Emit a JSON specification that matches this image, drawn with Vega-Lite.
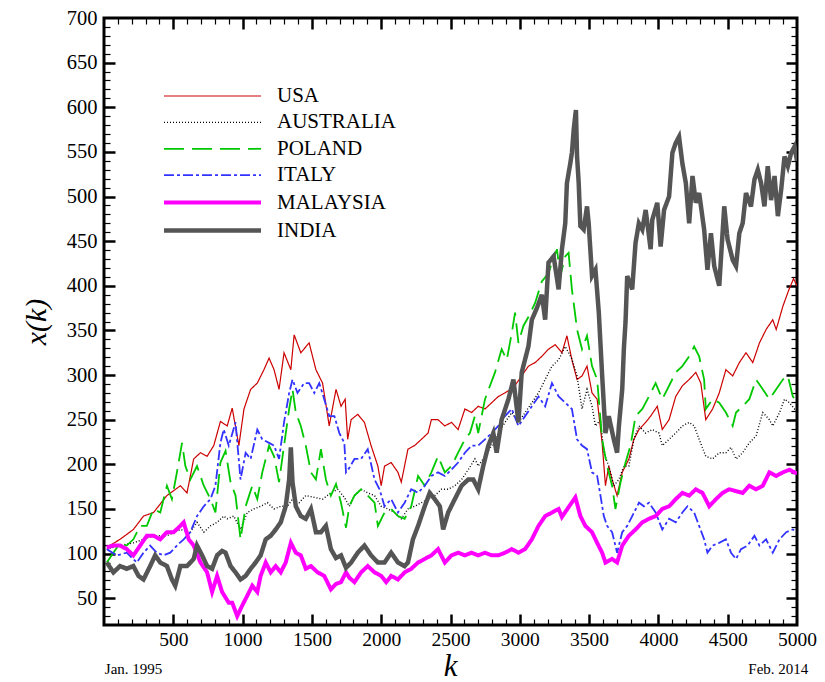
{
  "$schema": "https://vega.github.io/schema/vega-lite/v6.json",
  "autosize": {"type": "none"},
  "padding": {"left": 104, "top": 18, "right": 28, "bottom": 57},
  "width": 693,
  "height": 607,
  "background": "white",
  "config": {
    "view": {"stroke": "black", "strokeWidth": 3},
    "font": "Liberation Serif",
    "axis": {"grid": false, "domain": false, "labelFont": "Liberation Serif", "titleFont": "Liberation Serif", "labelColor": "black", "titleColor": "black", "tickColor": "black", "titleFontWeight": "normal"},
    "legend": {"orient": "none", "legendX": 96, "legendY": 67, "title": null, "padding": 0, "labelFont": "Liberation Serif", "labelFontSize": 21, "labelColor": "black", "symbolType": "M-4.85,0H4.85", "symbolSize": 400, "labelOffset": 52, "rowPadding": 5.4}
  },
  "data": {"values": [
    {"c":"USA","k":20,"v":107},{"c":"USA","k":116,"v":116},{"c":"USA","k":212,"v":127},{"c":"USA","k":285,"v":142},{"c":"USA","k":357,"v":146},{"c":"USA","k":454,"v":165},{"c":"USA","k":551,"v":176},{"c":"USA","k":599,"v":168},{"c":"USA","k":647,"v":206},{"c":"USA","k":696,"v":213},{"c":"USA","k":744,"v":209},{"c":"USA","k":792,"v":221},{"c":"USA","k":840,"v":248},{"c":"USA","k":889,"v":243},{"c":"USA","k":925,"v":263},{"c":"USA","k":973,"v":221},{"c":"USA","k":1010,"v":262},{"c":"USA","k":1058,"v":284},{"c":"USA","k":1106,"v":291},{"c":"USA","k":1154,"v":306},{"c":"USA","k":1191,"v":319},{"c":"USA","k":1227,"v":306},{"c":"USA","k":1263,"v":284},{"c":"USA","k":1299,"v":325},{"c":"USA","k":1348,"v":306},{"c":"USA","k":1372,"v":345},{"c":"USA","k":1420,"v":325},{"c":"USA","k":1480,"v":336},{"c":"USA","k":1529,"v":306},{"c":"USA","k":1577,"v":291},{"c":"USA","k":1625,"v":243},{"c":"USA","k":1674,"v":284},{"c":"USA","k":1710,"v":265},{"c":"USA","k":1740,"v":273},{"c":"USA","k":1758,"v":228},{"c":"USA","k":1783,"v":250},{"c":"USA","k":1831,"v":256},{"c":"USA","k":1879,"v":247},{"c":"USA","k":1927,"v":221},{"c":"USA","k":1976,"v":198},{"c":"USA","k":2000,"v":176},{"c":"USA","k":2024,"v":198},{"c":"USA","k":2072,"v":202},{"c":"USA","k":2121,"v":191},{"c":"USA","k":2145,"v":180},{"c":"USA","k":2193,"v":217},{"c":"USA","k":2241,"v":221},{"c":"USA","k":2290,"v":228},{"c":"USA","k":2338,"v":235},{"c":"USA","k":2362,"v":250},{"c":"USA","k":2410,"v":250},{"c":"USA","k":2459,"v":243},{"c":"USA","k":2507,"v":247},{"c":"USA","k":2555,"v":239},{"c":"USA","k":2604,"v":262},{"c":"USA","k":2652,"v":258},{"c":"USA","k":2700,"v":265},{"c":"USA","k":2749,"v":262},{"c":"USA","k":2797,"v":269},{"c":"USA","k":2845,"v":276},{"c":"USA","k":2893,"v":280},{"c":"USA","k":2954,"v":286},{"c":"USA","k":3014,"v":299},{"c":"USA","k":3062,"v":310},{"c":"USA","k":3111,"v":314},{"c":"USA","k":3159,"v":321},{"c":"USA","k":3207,"v":329},{"c":"USA","k":3256,"v":334},{"c":"USA","k":3304,"v":325},{"c":"USA","k":3340,"v":344},{"c":"USA","k":3376,"v":317},{"c":"USA","k":3413,"v":295},{"c":"USA","k":3449,"v":299},{"c":"USA","k":3485,"v":310},{"c":"USA","k":3521,"v":280},{"c":"USA","k":3558,"v":273},{"c":"USA","k":3594,"v":224},{"c":"USA","k":3618,"v":176},{"c":"USA","k":3642,"v":198},{"c":"USA","k":3666,"v":183},{"c":"USA","k":3702,"v":165},{"c":"USA","k":3739,"v":191},{"c":"USA","k":3787,"v":206},{"c":"USA","k":3823,"v":228},{"c":"USA","k":3860,"v":239},{"c":"USA","k":3908,"v":247},{"c":"USA","k":3944,"v":254},{"c":"USA","k":3992,"v":265},{"c":"USA","k":4028,"v":239},{"c":"USA","k":4077,"v":250},{"c":"USA","k":4125,"v":276},{"c":"USA","k":4173,"v":288},{"c":"USA","k":4222,"v":295},{"c":"USA","k":4270,"v":303},{"c":"USA","k":4306,"v":291},{"c":"USA","k":4342,"v":250},{"c":"USA","k":4391,"v":262},{"c":"USA","k":4439,"v":280},{"c":"USA","k":4487,"v":306},{"c":"USA","k":4536,"v":299},{"c":"USA","k":4584,"v":314},{"c":"USA","k":4632,"v":325},{"c":"USA","k":4681,"v":314},{"c":"USA","k":4729,"v":336},{"c":"USA","k":4777,"v":351},{"c":"USA","k":4825,"v":362},{"c":"USA","k":4850,"v":351},{"c":"USA","k":4898,"v":377},{"c":"USA","k":4940,"v":395},{"c":"USA","k":4975,"v":408},{"c":"USA","k":5000,"v":400},

    {"c":"AUSTRALIA","k":20,"v":105},{"c":"AUSTRALIA","k":116,"v":109},{"c":"AUSTRALIA","k":212,"v":112},{"c":"AUSTRALIA","k":285,"v":116},{"c":"AUSTRALIA","k":357,"v":120},{"c":"AUSTRALIA","k":454,"v":120},{"c":"AUSTRALIA","k":551,"v":127},{"c":"AUSTRALIA","k":623,"v":124},{"c":"AUSTRALIA","k":671,"v":135},{"c":"AUSTRALIA","k":720,"v":124},{"c":"AUSTRALIA","k":768,"v":131},{"c":"AUSTRALIA","k":816,"v":135},{"c":"AUSTRALIA","k":864,"v":142},{"c":"AUSTRALIA","k":889,"v":139},{"c":"AUSTRALIA","k":937,"v":142},{"c":"AUSTRALIA","k":985,"v":127},{"c":"AUSTRALIA","k":1034,"v":146},{"c":"AUSTRALIA","k":1082,"v":150},{"c":"AUSTRALIA","k":1130,"v":153},{"c":"AUSTRALIA","k":1179,"v":157},{"c":"AUSTRALIA","k":1227,"v":150},{"c":"AUSTRALIA","k":1275,"v":153},{"c":"AUSTRALIA","k":1323,"v":153},{"c":"AUSTRALIA","k":1360,"v":161},{"c":"AUSTRALIA","k":1408,"v":157},{"c":"AUSTRALIA","k":1456,"v":165},{"c":"AUSTRALIA","k":1517,"v":163},{"c":"AUSTRALIA","k":1577,"v":161},{"c":"AUSTRALIA","k":1637,"v":168},{"c":"AUSTRALIA","k":1686,"v":172},{"c":"AUSTRALIA","k":1734,"v":163},{"c":"AUSTRALIA","k":1770,"v":153},{"c":"AUSTRALIA","k":1807,"v":165},{"c":"AUSTRALIA","k":1855,"v":172},{"c":"AUSTRALIA","k":1903,"v":168},{"c":"AUSTRALIA","k":1952,"v":165},{"c":"AUSTRALIA","k":2000,"v":153},{"c":"AUSTRALIA","k":2048,"v":150},{"c":"AUSTRALIA","k":2096,"v":146},{"c":"AUSTRALIA","k":2145,"v":139},{"c":"AUSTRALIA","k":2193,"v":150},{"c":"AUSTRALIA","k":2241,"v":153},{"c":"AUSTRALIA","k":2290,"v":157},{"c":"AUSTRALIA","k":2338,"v":161},{"c":"AUSTRALIA","k":2386,"v":165},{"c":"AUSTRALIA","k":2435,"v":172},{"c":"AUSTRALIA","k":2483,"v":172},{"c":"AUSTRALIA","k":2531,"v":176},{"c":"AUSTRALIA","k":2580,"v":183},{"c":"AUSTRALIA","k":2628,"v":194},{"c":"AUSTRALIA","k":2676,"v":206},{"c":"AUSTRALIA","k":2700,"v":198},{"c":"AUSTRALIA","k":2749,"v":209},{"c":"AUSTRALIA","k":2797,"v":221},{"c":"AUSTRALIA","k":2845,"v":235},{"c":"AUSTRALIA","k":2893,"v":247},{"c":"AUSTRALIA","k":2942,"v":258},{"c":"AUSTRALIA","k":2990,"v":247},{"c":"AUSTRALIA","k":3038,"v":258},{"c":"AUSTRALIA","k":3087,"v":269},{"c":"AUSTRALIA","k":3135,"v":280},{"c":"AUSTRALIA","k":3183,"v":295},{"c":"AUSTRALIA","k":3232,"v":310},{"c":"AUSTRALIA","k":3280,"v":317},{"c":"AUSTRALIA","k":3328,"v":332},{"c":"AUSTRALIA","k":3376,"v":318},{"c":"AUSTRALIA","k":3413,"v":299},{"c":"AUSTRALIA","k":3449,"v":262},{"c":"AUSTRALIA","k":3485,"v":284},{"c":"AUSTRALIA","k":3521,"v":265},{"c":"AUSTRALIA","k":3546,"v":243},{"c":"AUSTRALIA","k":3582,"v":250},{"c":"AUSTRALIA","k":3606,"v":213},{"c":"AUSTRALIA","k":3642,"v":198},{"c":"AUSTRALIA","k":3678,"v":176},{"c":"AUSTRALIA","k":3715,"v":183},{"c":"AUSTRALIA","k":3751,"v":198},{"c":"AUSTRALIA","k":3787,"v":198},{"c":"AUSTRALIA","k":3823,"v":228},{"c":"AUSTRALIA","k":3860,"v":243},{"c":"AUSTRALIA","k":3908,"v":235},{"c":"AUSTRALIA","k":3956,"v":239},{"c":"AUSTRALIA","k":4004,"v":235},{"c":"AUSTRALIA","k":4028,"v":221},{"c":"AUSTRALIA","k":4077,"v":228},{"c":"AUSTRALIA","k":4125,"v":235},{"c":"AUSTRALIA","k":4173,"v":243},{"c":"AUSTRALIA","k":4222,"v":247},{"c":"AUSTRALIA","k":4258,"v":243},{"c":"AUSTRALIA","k":4294,"v":228},{"c":"AUSTRALIA","k":4342,"v":209},{"c":"AUSTRALIA","k":4391,"v":206},{"c":"AUSTRALIA","k":4439,"v":213},{"c":"AUSTRALIA","k":4487,"v":213},{"c":"AUSTRALIA","k":4524,"v":219},{"c":"AUSTRALIA","k":4560,"v":206},{"c":"AUSTRALIA","k":4608,"v":213},{"c":"AUSTRALIA","k":4656,"v":224},{"c":"AUSTRALIA","k":4705,"v":232},{"c":"AUSTRALIA","k":4753,"v":258},{"c":"AUSTRALIA","k":4801,"v":250},{"c":"AUSTRALIA","k":4825,"v":243},{"c":"AUSTRALIA","k":4874,"v":258},{"c":"AUSTRALIA","k":4910,"v":273},{"c":"AUSTRALIA","k":4946,"v":269},{"c":"AUSTRALIA","k":4982,"v":262},{"c":"AUSTRALIA","k":5000,"v":265},

    {"c":"POLAND","k":20,"v":90},{"c":"POLAND","k":68,"v":101},{"c":"POLAND","k":116,"v":112},{"c":"POLAND","k":164,"v":109},{"c":"POLAND","k":212,"v":116},{"c":"POLAND","k":261,"v":131},{"c":"POLAND","k":309,"v":131},{"c":"POLAND","k":357,"v":150},{"c":"POLAND","k":406,"v":146},{"c":"POLAND","k":454,"v":176},{"c":"POLAND","k":490,"v":161},{"c":"POLAND","k":526,"v":191},{"c":"POLAND","k":563,"v":224},{"c":"POLAND","k":587,"v":198},{"c":"POLAND","k":623,"v":183},{"c":"POLAND","k":671,"v":198},{"c":"POLAND","k":720,"v":176},{"c":"POLAND","k":768,"v":161},{"c":"POLAND","k":804,"v":146},{"c":"POLAND","k":840,"v":202},{"c":"POLAND","k":877,"v":215},{"c":"POLAND","k":913,"v":180},{"c":"POLAND","k":949,"v":165},{"c":"POLAND","k":985,"v":116},{"c":"POLAND","k":1022,"v":153},{"c":"POLAND","k":1070,"v":176},{"c":"POLAND","k":1106,"v":161},{"c":"POLAND","k":1142,"v":191},{"c":"POLAND","k":1191,"v":221},{"c":"POLAND","k":1227,"v":209},{"c":"POLAND","k":1263,"v":180},{"c":"POLAND","k":1299,"v":221},{"c":"POLAND","k":1336,"v":262},{"c":"POLAND","k":1360,"v":284},{"c":"POLAND","k":1384,"v":258},{"c":"POLAND","k":1420,"v":243},{"c":"POLAND","k":1456,"v":221},{"c":"POLAND","k":1493,"v":191},{"c":"POLAND","k":1529,"v":183},{"c":"POLAND","k":1565,"v":217},{"c":"POLAND","k":1601,"v":183},{"c":"POLAND","k":1637,"v":165},{"c":"POLAND","k":1674,"v":178},{"c":"POLAND","k":1710,"v":157},{"c":"POLAND","k":1746,"v":129},{"c":"POLAND","k":1770,"v":153},{"c":"POLAND","k":1807,"v":165},{"c":"POLAND","k":1855,"v":172},{"c":"POLAND","k":1903,"v":165},{"c":"POLAND","k":1952,"v":157},{"c":"POLAND","k":1976,"v":131},{"c":"POLAND","k":2024,"v":146},{"c":"POLAND","k":2072,"v":150},{"c":"POLAND","k":2121,"v":142},{"c":"POLAND","k":2169,"v":139},{"c":"POLAND","k":2217,"v":153},{"c":"POLAND","k":2266,"v":187},{"c":"POLAND","k":2314,"v":176},{"c":"POLAND","k":2362,"v":191},{"c":"POLAND","k":2410,"v":209},{"c":"POLAND","k":2459,"v":191},{"c":"POLAND","k":2507,"v":198},{"c":"POLAND","k":2555,"v":213},{"c":"POLAND","k":2604,"v":228},{"c":"POLAND","k":2640,"v":235},{"c":"POLAND","k":2676,"v":254},{"c":"POLAND","k":2700,"v":235},{"c":"POLAND","k":2749,"v":273},{"c":"POLAND","k":2785,"v":288},{"c":"POLAND","k":2821,"v":303},{"c":"POLAND","k":2869,"v":329},{"c":"POLAND","k":2906,"v":317},{"c":"POLAND","k":2942,"v":347},{"c":"POLAND","k":2966,"v":370},{"c":"POLAND","k":2990,"v":336},{"c":"POLAND","k":3026,"v":355},{"c":"POLAND","k":3062,"v":365},{"c":"POLAND","k":3111,"v":381},{"c":"POLAND","k":3159,"v":405},{"c":"POLAND","k":3207,"v":414},{"c":"POLAND","k":3232,"v":426},{"c":"POLAND","k":3268,"v":441},{"c":"POLAND","k":3292,"v":411},{"c":"POLAND","k":3328,"v":433},{"c":"POLAND","k":3352,"v":437},{"c":"POLAND","k":3376,"v":396},{"c":"POLAND","k":3401,"v":366},{"c":"POLAND","k":3413,"v":351},{"c":"POLAND","k":3449,"v":329},{"c":"POLAND","k":3485,"v":344},{"c":"POLAND","k":3521,"v":310},{"c":"POLAND","k":3558,"v":295},{"c":"POLAND","k":3594,"v":228},{"c":"POLAND","k":3630,"v":198},{"c":"POLAND","k":3666,"v":176},{"c":"POLAND","k":3690,"v":150},{"c":"POLAND","k":3727,"v":180},{"c":"POLAND","k":3763,"v":202},{"c":"POLAND","k":3799,"v":221},{"c":"POLAND","k":3835,"v":254},{"c":"POLAND","k":3884,"v":262},{"c":"POLAND","k":3932,"v":276},{"c":"POLAND","k":3980,"v":291},{"c":"POLAND","k":4028,"v":273},{"c":"POLAND","k":4077,"v":288},{"c":"POLAND","k":4125,"v":303},{"c":"POLAND","k":4173,"v":310},{"c":"POLAND","k":4222,"v":321},{"c":"POLAND","k":4258,"v":332},{"c":"POLAND","k":4294,"v":321},{"c":"POLAND","k":4330,"v":295},{"c":"POLAND","k":4342,"v":262},{"c":"POLAND","k":4391,"v":273},{"c":"POLAND","k":4439,"v":269},{"c":"POLAND","k":4487,"v":258},{"c":"POLAND","k":4536,"v":243},{"c":"POLAND","k":4560,"v":258},{"c":"POLAND","k":4608,"v":265},{"c":"POLAND","k":4656,"v":273},{"c":"POLAND","k":4705,"v":295},{"c":"POLAND","k":4753,"v":284},{"c":"POLAND","k":4801,"v":273},{"c":"POLAND","k":4850,"v":284},{"c":"POLAND","k":4898,"v":295},{"c":"POLAND","k":4934,"v":299},{"c":"POLAND","k":4970,"v":276},{"c":"POLAND","k":5000,"v":270},

    {"c":"ITALY","k":20,"v":105},{"c":"ITALY","k":92,"v":98},{"c":"ITALY","k":164,"v":101},{"c":"ITALY","k":237,"v":90},{"c":"ITALY","k":285,"v":101},{"c":"ITALY","k":333,"v":109},{"c":"ITALY","k":381,"v":101},{"c":"ITALY","k":430,"v":98},{"c":"ITALY","k":478,"v":101},{"c":"ITALY","k":526,"v":109},{"c":"ITALY","k":575,"v":116},{"c":"ITALY","k":623,"v":124},{"c":"ITALY","k":671,"v":142},{"c":"ITALY","k":720,"v":153},{"c":"ITALY","k":768,"v":161},{"c":"ITALY","k":804,"v":176},{"c":"ITALY","k":840,"v":224},{"c":"ITALY","k":864,"v":239},{"c":"ITALY","k":900,"v":221},{"c":"ITALY","k":949,"v":247},{"c":"ITALY","k":985,"v":183},{"c":"ITALY","k":1022,"v":213},{"c":"ITALY","k":1058,"v":206},{"c":"ITALY","k":1106,"v":239},{"c":"ITALY","k":1142,"v":228},{"c":"ITALY","k":1191,"v":224},{"c":"ITALY","k":1227,"v":221},{"c":"ITALY","k":1263,"v":206},{"c":"ITALY","k":1299,"v":247},{"c":"ITALY","k":1336,"v":280},{"c":"ITALY","k":1360,"v":295},{"c":"ITALY","k":1396,"v":280},{"c":"ITALY","k":1444,"v":291},{"c":"ITALY","k":1480,"v":291},{"c":"ITALY","k":1517,"v":280},{"c":"ITALY","k":1553,"v":291},{"c":"ITALY","k":1589,"v":273},{"c":"ITALY","k":1625,"v":254},{"c":"ITALY","k":1662,"v":254},{"c":"ITALY","k":1698,"v":235},{"c":"ITALY","k":1734,"v":224},{"c":"ITALY","k":1746,"v":191},{"c":"ITALY","k":1770,"v":196},{"c":"ITALY","k":1807,"v":206},{"c":"ITALY","k":1855,"v":206},{"c":"ITALY","k":1903,"v":217},{"c":"ITALY","k":1952,"v":183},{"c":"ITALY","k":1988,"v":172},{"c":"ITALY","k":2024,"v":153},{"c":"ITALY","k":2072,"v":161},{"c":"ITALY","k":2121,"v":146},{"c":"ITALY","k":2169,"v":157},{"c":"ITALY","k":2217,"v":172},{"c":"ITALY","k":2266,"v":168},{"c":"ITALY","k":2314,"v":176},{"c":"ITALY","k":2362,"v":187},{"c":"ITALY","k":2410,"v":191},{"c":"ITALY","k":2459,"v":187},{"c":"ITALY","k":2507,"v":194},{"c":"ITALY","k":2555,"v":202},{"c":"ITALY","k":2604,"v":213},{"c":"ITALY","k":2652,"v":221},{"c":"ITALY","k":2700,"v":221},{"c":"ITALY","k":2749,"v":228},{"c":"ITALY","k":2797,"v":235},{"c":"ITALY","k":2845,"v":243},{"c":"ITALY","k":2893,"v":254},{"c":"ITALY","k":2942,"v":262},{"c":"ITALY","k":2990,"v":243},{"c":"ITALY","k":3038,"v":254},{"c":"ITALY","k":3087,"v":265},{"c":"ITALY","k":3135,"v":276},{"c":"ITALY","k":3183,"v":265},{"c":"ITALY","k":3232,"v":291},{"c":"ITALY","k":3280,"v":276},{"c":"ITALY","k":3328,"v":269},{"c":"ITALY","k":3376,"v":262},{"c":"ITALY","k":3413,"v":228},{"c":"ITALY","k":3449,"v":221},{"c":"ITALY","k":3485,"v":217},{"c":"ITALY","k":3521,"v":191},{"c":"ITALY","k":3558,"v":187},{"c":"ITALY","k":3582,"v":165},{"c":"ITALY","k":3606,"v":142},{"c":"ITALY","k":3630,"v":131},{"c":"ITALY","k":3666,"v":124},{"c":"ITALY","k":3702,"v":101},{"c":"ITALY","k":3739,"v":124},{"c":"ITALY","k":3775,"v":131},{"c":"ITALY","k":3811,"v":142},{"c":"ITALY","k":3860,"v":157},{"c":"ITALY","k":3896,"v":153},{"c":"ITALY","k":3932,"v":157},{"c":"ITALY","k":3980,"v":146},{"c":"ITALY","k":4028,"v":127},{"c":"ITALY","k":4077,"v":139},{"c":"ITALY","k":4125,"v":135},{"c":"ITALY","k":4173,"v":146},{"c":"ITALY","k":4210,"v":153},{"c":"ITALY","k":4258,"v":146},{"c":"ITALY","k":4294,"v":131},{"c":"ITALY","k":4330,"v":116},{"c":"ITALY","k":4354,"v":101},{"c":"ITALY","k":4391,"v":109},{"c":"ITALY","k":4439,"v":112},{"c":"ITALY","k":4487,"v":116},{"c":"ITALY","k":4524,"v":101},{"c":"ITALY","k":4560,"v":94},{"c":"ITALY","k":4596,"v":105},{"c":"ITALY","k":4644,"v":109},{"c":"ITALY","k":4693,"v":120},{"c":"ITALY","k":4729,"v":109},{"c":"ITALY","k":4777,"v":116},{"c":"ITALY","k":4825,"v":101},{"c":"ITALY","k":4874,"v":116},{"c":"ITALY","k":4922,"v":124},{"c":"ITALY","k":4970,"v":127},{"c":"ITALY","k":5000,"v":125},

    {"c":"MALAYSIA","k":20,"v":107},{"c":"MALAYSIA","k":68,"v":109},{"c":"MALAYSIA","k":116,"v":109},{"c":"MALAYSIA","k":164,"v":105},{"c":"MALAYSIA","k":212,"v":98},{"c":"MALAYSIA","k":261,"v":109},{"c":"MALAYSIA","k":309,"v":120},{"c":"MALAYSIA","k":357,"v":120},{"c":"MALAYSIA","k":406,"v":116},{"c":"MALAYSIA","k":454,"v":124},{"c":"MALAYSIA","k":502,"v":124},{"c":"MALAYSIA","k":551,"v":131},{"c":"MALAYSIA","k":575,"v":135},{"c":"MALAYSIA","k":611,"v":116},{"c":"MALAYSIA","k":647,"v":109},{"c":"MALAYSIA","k":696,"v":90},{"c":"MALAYSIA","k":744,"v":79},{"c":"MALAYSIA","k":780,"v":57},{"c":"MALAYSIA","k":816,"v":75},{"c":"MALAYSIA","k":852,"v":57},{"c":"MALAYSIA","k":900,"v":45},{"c":"MALAYSIA","k":925,"v":45},{"c":"MALAYSIA","k":961,"v":30},{"c":"MALAYSIA","k":998,"v":42},{"c":"MALAYSIA","k":1034,"v":53},{"c":"MALAYSIA","k":1070,"v":64},{"c":"MALAYSIA","k":1106,"v":57},{"c":"MALAYSIA","k":1130,"v":75},{"c":"MALAYSIA","k":1167,"v":90},{"c":"MALAYSIA","k":1203,"v":79},{"c":"MALAYSIA","k":1239,"v":86},{"c":"MALAYSIA","k":1275,"v":79},{"c":"MALAYSIA","k":1311,"v":90},{"c":"MALAYSIA","k":1348,"v":112},{"c":"MALAYSIA","k":1384,"v":101},{"c":"MALAYSIA","k":1420,"v":98},{"c":"MALAYSIA","k":1456,"v":83},{"c":"MALAYSIA","k":1493,"v":86},{"c":"MALAYSIA","k":1541,"v":79},{"c":"MALAYSIA","k":1589,"v":75},{"c":"MALAYSIA","k":1637,"v":60},{"c":"MALAYSIA","k":1674,"v":66},{"c":"MALAYSIA","k":1710,"v":68},{"c":"MALAYSIA","k":1746,"v":79},{"c":"MALAYSIA","k":1770,"v":73},{"c":"MALAYSIA","k":1807,"v":68},{"c":"MALAYSIA","k":1855,"v":79},{"c":"MALAYSIA","k":1903,"v":86},{"c":"MALAYSIA","k":1952,"v":79},{"c":"MALAYSIA","k":2000,"v":75},{"c":"MALAYSIA","k":2036,"v":68},{"c":"MALAYSIA","k":2072,"v":75},{"c":"MALAYSIA","k":2121,"v":71},{"c":"MALAYSIA","k":2169,"v":79},{"c":"MALAYSIA","k":2217,"v":83},{"c":"MALAYSIA","k":2266,"v":90},{"c":"MALAYSIA","k":2314,"v":94},{"c":"MALAYSIA","k":2362,"v":98},{"c":"MALAYSIA","k":2410,"v":105},{"c":"MALAYSIA","k":2459,"v":90},{"c":"MALAYSIA","k":2507,"v":98},{"c":"MALAYSIA","k":2555,"v":101},{"c":"MALAYSIA","k":2604,"v":98},{"c":"MALAYSIA","k":2652,"v":101},{"c":"MALAYSIA","k":2700,"v":98},{"c":"MALAYSIA","k":2749,"v":101},{"c":"MALAYSIA","k":2797,"v":98},{"c":"MALAYSIA","k":2845,"v":98},{"c":"MALAYSIA","k":2893,"v":101},{"c":"MALAYSIA","k":2942,"v":105},{"c":"MALAYSIA","k":2990,"v":101},{"c":"MALAYSIA","k":3038,"v":105},{"c":"MALAYSIA","k":3087,"v":116},{"c":"MALAYSIA","k":3135,"v":131},{"c":"MALAYSIA","k":3183,"v":142},{"c":"MALAYSIA","k":3232,"v":146},{"c":"MALAYSIA","k":3280,"v":150},{"c":"MALAYSIA","k":3304,"v":141},{"c":"MALAYSIA","k":3352,"v":152},{"c":"MALAYSIA","k":3401,"v":163},{"c":"MALAYSIA","k":3437,"v":142},{"c":"MALAYSIA","k":3473,"v":131},{"c":"MALAYSIA","k":3521,"v":124},{"c":"MALAYSIA","k":3558,"v":112},{"c":"MALAYSIA","k":3594,"v":101},{"c":"MALAYSIA","k":3618,"v":90},{"c":"MALAYSIA","k":3666,"v":94},{"c":"MALAYSIA","k":3702,"v":90},{"c":"MALAYSIA","k":3739,"v":109},{"c":"MALAYSIA","k":3787,"v":120},{"c":"MALAYSIA","k":3835,"v":127},{"c":"MALAYSIA","k":3884,"v":135},{"c":"MALAYSIA","k":3932,"v":139},{"c":"MALAYSIA","k":3980,"v":142},{"c":"MALAYSIA","k":4028,"v":150},{"c":"MALAYSIA","k":4077,"v":153},{"c":"MALAYSIA","k":4125,"v":161},{"c":"MALAYSIA","k":4173,"v":168},{"c":"MALAYSIA","k":4222,"v":165},{"c":"MALAYSIA","k":4270,"v":172},{"c":"MALAYSIA","k":4318,"v":168},{"c":"MALAYSIA","k":4367,"v":153},{"c":"MALAYSIA","k":4415,"v":161},{"c":"MALAYSIA","k":4463,"v":168},{"c":"MALAYSIA","k":4511,"v":172},{"c":"MALAYSIA","k":4560,"v":170},{"c":"MALAYSIA","k":4608,"v":168},{"c":"MALAYSIA","k":4656,"v":176},{"c":"MALAYSIA","k":4705,"v":172},{"c":"MALAYSIA","k":4753,"v":176},{"c":"MALAYSIA","k":4801,"v":191},{"c":"MALAYSIA","k":4850,"v":187},{"c":"MALAYSIA","k":4898,"v":191},{"c":"MALAYSIA","k":4946,"v":194},{"c":"MALAYSIA","k":4982,"v":191},{"c":"MALAYSIA","k":5000,"v":190},

    {"c":"INDIA","k":20,"v":90},{"c":"INDIA","k":68,"v":79},{"c":"INDIA","k":116,"v":86},{"c":"INDIA","k":164,"v":83},{"c":"INDIA","k":212,"v":86},{"c":"INDIA","k":249,"v":75},{"c":"INDIA","k":285,"v":71},{"c":"INDIA","k":333,"v":86},{"c":"INDIA","k":369,"v":98},{"c":"INDIA","k":406,"v":90},{"c":"INDIA","k":454,"v":86},{"c":"INDIA","k":490,"v":71},{"c":"INDIA","k":514,"v":64},{"c":"INDIA","k":551,"v":86},{"c":"INDIA","k":599,"v":86},{"c":"INDIA","k":647,"v":94},{"c":"INDIA","k":671,"v":109},{"c":"INDIA","k":708,"v":98},{"c":"INDIA","k":744,"v":86},{"c":"INDIA","k":780,"v":83},{"c":"INDIA","k":816,"v":98},{"c":"INDIA","k":852,"v":103},{"c":"INDIA","k":877,"v":101},{"c":"INDIA","k":913,"v":86},{"c":"INDIA","k":949,"v":79},{"c":"INDIA","k":985,"v":71},{"c":"INDIA","k":1022,"v":75},{"c":"INDIA","k":1058,"v":83},{"c":"INDIA","k":1094,"v":90},{"c":"INDIA","k":1130,"v":98},{"c":"INDIA","k":1167,"v":116},{"c":"INDIA","k":1203,"v":120},{"c":"INDIA","k":1239,"v":127},{"c":"INDIA","k":1275,"v":135},{"c":"INDIA","k":1311,"v":153},{"c":"INDIA","k":1336,"v":183},{"c":"INDIA","k":1348,"v":219},{"c":"INDIA","k":1360,"v":180},{"c":"INDIA","k":1384,"v":153},{"c":"INDIA","k":1420,"v":142},{"c":"INDIA","k":1456,"v":139},{"c":"INDIA","k":1493,"v":150},{"c":"INDIA","k":1529,"v":124},{"c":"INDIA","k":1565,"v":124},{"c":"INDIA","k":1601,"v":131},{"c":"INDIA","k":1637,"v":105},{"c":"INDIA","k":1674,"v":95},{"c":"INDIA","k":1710,"v":98},{"c":"INDIA","k":1746,"v":84},{"c":"INDIA","k":1783,"v":90},{"c":"INDIA","k":1831,"v":101},{"c":"INDIA","k":1879,"v":109},{"c":"INDIA","k":1927,"v":98},{"c":"INDIA","k":1976,"v":90},{"c":"INDIA","k":2024,"v":90},{"c":"INDIA","k":2072,"v":101},{"c":"INDIA","k":2121,"v":90},{"c":"INDIA","k":2169,"v":86},{"c":"INDIA","k":2193,"v":90},{"c":"INDIA","k":2229,"v":116},{"c":"INDIA","k":2266,"v":131},{"c":"INDIA","k":2314,"v":153},{"c":"INDIA","k":2350,"v":168},{"c":"INDIA","k":2386,"v":161},{"c":"INDIA","k":2423,"v":153},{"c":"INDIA","k":2447,"v":127},{"c":"INDIA","k":2483,"v":146},{"c":"INDIA","k":2531,"v":161},{"c":"INDIA","k":2580,"v":176},{"c":"INDIA","k":2628,"v":183},{"c":"INDIA","k":2664,"v":183},{"c":"INDIA","k":2700,"v":172},{"c":"INDIA","k":2736,"v":198},{"c":"INDIA","k":2773,"v":221},{"c":"INDIA","k":2809,"v":235},{"c":"INDIA","k":2833,"v":213},{"c":"INDIA","k":2869,"v":250},{"c":"INDIA","k":2918,"v":273},{"c":"INDIA","k":2954,"v":295},{"c":"INDIA","k":2990,"v":247},{"c":"INDIA","k":3014,"v":303},{"c":"INDIA","k":3062,"v":332},{"c":"INDIA","k":3087,"v":362},{"c":"INDIA","k":3123,"v":375},{"c":"INDIA","k":3159,"v":390},{"c":"INDIA","k":3183,"v":362},{"c":"INDIA","k":3207,"v":426},{"c":"INDIA","k":3244,"v":433},{"c":"INDIA","k":3280,"v":396},{"c":"INDIA","k":3304,"v":441},{"c":"INDIA","k":3328,"v":470},{"c":"INDIA","k":3340,"v":515},{"c":"INDIA","k":3364,"v":537},{"c":"INDIA","k":3376,"v":549},{"c":"INDIA","k":3389,"v":575},{"c":"INDIA","k":3405,"v":597},{"c":"INDIA","k":3413,"v":545},{"c":"INDIA","k":3425,"v":515},{"c":"INDIA","k":3437,"v":467},{"c":"INDIA","k":3461,"v":463},{"c":"INDIA","k":3485,"v":489},{"c":"INDIA","k":3497,"v":470},{"c":"INDIA","k":3521,"v":411},{"c":"INDIA","k":3546,"v":418},{"c":"INDIA","k":3570,"v":370},{"c":"INDIA","k":3594,"v":300},{"c":"INDIA","k":3618,"v":235},{"c":"INDIA","k":3642,"v":254},{"c":"INDIA","k":3678,"v":228},{"c":"INDIA","k":3702,"v":213},{"c":"INDIA","k":3715,"v":243},{"c":"INDIA","k":3739,"v":284},{"c":"INDIA","k":3751,"v":330},{"c":"INDIA","k":3763,"v":360},{"c":"INDIA","k":3775,"v":411},{"c":"INDIA","k":3811,"v":396},{"c":"INDIA","k":3835,"v":448},{"c":"INDIA","k":3859,"v":470},{"c":"INDIA","k":3884,"v":463},{"c":"INDIA","k":3908,"v":485},{"c":"INDIA","k":3944,"v":441},{"c":"INDIA","k":3956,"v":474},{"c":"INDIA","k":3992,"v":493},{"c":"INDIA","k":4016,"v":444},{"c":"INDIA","k":4041,"v":485},{"c":"INDIA","k":4077,"v":500},{"c":"INDIA","k":4101,"v":549},{"c":"INDIA","k":4125,"v":560},{"c":"INDIA","k":4149,"v":567},{"c":"INDIA","k":4173,"v":537},{"c":"INDIA","k":4198,"v":515},{"c":"INDIA","k":4222,"v":470},{"c":"INDIA","k":4246,"v":523},{"c":"INDIA","k":4270,"v":493},{"c":"INDIA","k":4294,"v":504},{"c":"INDIA","k":4330,"v":463},{"c":"INDIA","k":4354,"v":418},{"c":"INDIA","k":4379,"v":459},{"c":"INDIA","k":4403,"v":422},{"c":"INDIA","k":4439,"v":400},{"c":"INDIA","k":4475,"v":489},{"c":"INDIA","k":4499,"v":452},{"c":"INDIA","k":4536,"v":429},{"c":"INDIA","k":4560,"v":422},{"c":"INDIA","k":4584,"v":459},{"c":"INDIA","k":4608,"v":470},{"c":"INDIA","k":4632,"v":504},{"c":"INDIA","k":4668,"v":489},{"c":"INDIA","k":4693,"v":519},{"c":"INDIA","k":4717,"v":530},{"c":"INDIA","k":4741,"v":515},{"c":"INDIA","k":4765,"v":489},{"c":"INDIA","k":4789,"v":534},{"c":"INDIA","k":4813,"v":496},{"c":"INDIA","k":4838,"v":523},{"c":"INDIA","k":4862,"v":478},{"c":"INDIA","k":4886,"v":508},{"c":"INDIA","k":4910,"v":545},{"c":"INDIA","k":4934,"v":534},{"c":"INDIA","k":4958,"v":549},{"c":"INDIA","k":4982,"v":556},{"c":"INDIA","k":5000,"v":540}
  ]},
  "layer": [
    {
      "mark": {"type": "line", "clip": true, "strokeCap": "butt", "strokeJoin": "miter"},
      "encoding": {
        "x": {"field": "k", "type": "quantitative", "scale": {"domain": [0, 5000], "nice": false, "zero": false},
          "axis": {"orient": "bottom", "title": "k", "titleFontSize": 31, "titleFontStyle": "italic", "titleX": 346, "titleY": 50.8, "titleBaseline": "alphabetic", "titleAlign": "center",
            "values": [100,200,210,300,400,500,600,700,800,900,1000,1100,1200,1300,1400,1500,1600,1700,1800,1900,2000,2100,2200,2300,2400,2500,2600,2700,2800,2900,3000,3100,3200,3300,3400,3500,3600,3700,3800,3900,4000,4100,4200,4300,4400,4500,4600,4700,4800,4862,4900,5000],
            "format": "d", "labelOverlap": false, "labelFlush": false, "labelBaseline": "top",
            "labelExpr": "datum.value == 210 ? 'Jan. 1995' : (datum.value == 4862 ? 'Feb. 2014' : (datum.value % 500 === 0 ? datum.label : ''))",
            "labelFontSize": {"expr": "datum.value % 100 !== 0 ? 15 : 19.5"},
            "tickSize": {"expr": "datum.value % 500 === 0 ? -11 : -6"},
            "tickWidth": {"expr": "datum.value % 500 === 0 ? 2.5 : 1.2"},
            "tickOpacity": {"expr": "datum.value % 100 !== 0 || datum.value == 5000 ? 0 : 1"},
            "labelPadding": {"expr": "datum.value % 100 !== 0 ? 42 : (datum.value % 500 === 0 ? 16 : 11)"}
          }},
        "y": {"field": "v", "type": "quantitative", "scale": {"domain": [20, 700], "nice": false, "zero": false},
          "axis": {"orient": "left", "title": "x(k)", "titleFontSize": 30, "titleFontStyle": "italic", "titlePadding": 15,
            "values": [30,40,50,60,70,80,90,100,110,120,130,140,150,160,170,180,190,200,210,220,230,240,250,260,270,280,290,300,310,320,330,340,350,360,370,380,390,400,410,420,430,440,450,460,470,480,490,500,510,520,530,540,550,560,570,580,590,600,610,620,630,640,650,660,670,680,690,700],
            "format": "d", "labelOverlap": false, "labelFlush": false,
            "labelExpr": "datum.value % 50 === 0 ? datum.label : ''",
            "labelFontSize": 20.5,
            "tickSize": {"expr": "datum.value % 50 === 0 ? -11 : -6"},
            "tickWidth": {"expr": "datum.value % 50 === 0 ? 2.5 : 1.2"},
            "tickOpacity": {"expr": "datum.value == 700 ? 0 : 1"},
            "labelPadding": {"expr": "datum.value % 50 === 0 ? 18 : 13"}
          }},
        "color": {"field": "c", "type": "nominal",
          "scale": {"domain": ["USA","AUSTRALIA","POLAND","ITALY","MALAYSIA","INDIA"], "range": ["#cc0000","#000000","#00c800","#3333ff","#ff00ff","#555555"]}},
        "strokeDash": {"field": "c", "type": "nominal",
          "scale": {"domain": ["USA","AUSTRALIA","POLAND","ITALY","MALAYSIA","INDIA"], "range": [[1,0],[1,2],[20,8],[10,3,3,3],[1,0],[1,0]]}},
        "strokeWidth": {"field": "c", "type": "nominal",
          "scale": {"type": "ordinal", "domain": ["USA","AUSTRALIA","POLAND","ITALY","MALAYSIA","INDIA"], "range": [1.2,1.4,1.8,1.8,4,4.5]}}
      }
    },
    {
      "mark": {"type": "point", "opacity": 0},
      "encoding": {
        "x": {"field": "k", "type": "quantitative",
          "axis": {"orient": "top", "title": null, "labels": false,
            "values": [100,200,300,400,500,600,700,800,900,1000,1100,1200,1300,1400,1500,1600,1700,1800,1900,2000,2100,2200,2300,2400,2500,2600,2700,2800,2900,3000,3100,3200,3300,3400,3500,3600,3700,3800,3900,4000,4100,4200,4300,4400,4500,4600,4700,4800,4900],
            "tickSize": {"expr": "datum.value % 500 === 0 ? -11 : -6"},
            "tickWidth": {"expr": "datum.value % 500 === 0 ? 2.5 : 1.2"}
          }},
        "y": {"field": "v", "type": "quantitative",
          "axis": {"orient": "right", "title": null, "labels": false,
            "values": [30,40,50,60,70,80,90,100,110,120,130,140,150,160,170,180,190,200,210,220,230,240,250,260,270,280,290,300,310,320,330,340,350,360,370,380,390,400,410,420,430,440,450,460,470,480,490,500,510,520,530,540,550,560,570,580,590,600,610,620,630,640,650,660,670,680,690],
            "tickSize": {"expr": "datum.value % 50 === 0 ? -11 : -6"},
            "tickWidth": {"expr": "datum.value % 50 === 0 ? 2.5 : 1.2"}
          }}
      }
    }
  ],
  "resolve": {"axis": {"x": "independent", "y": "independent"}}
}
